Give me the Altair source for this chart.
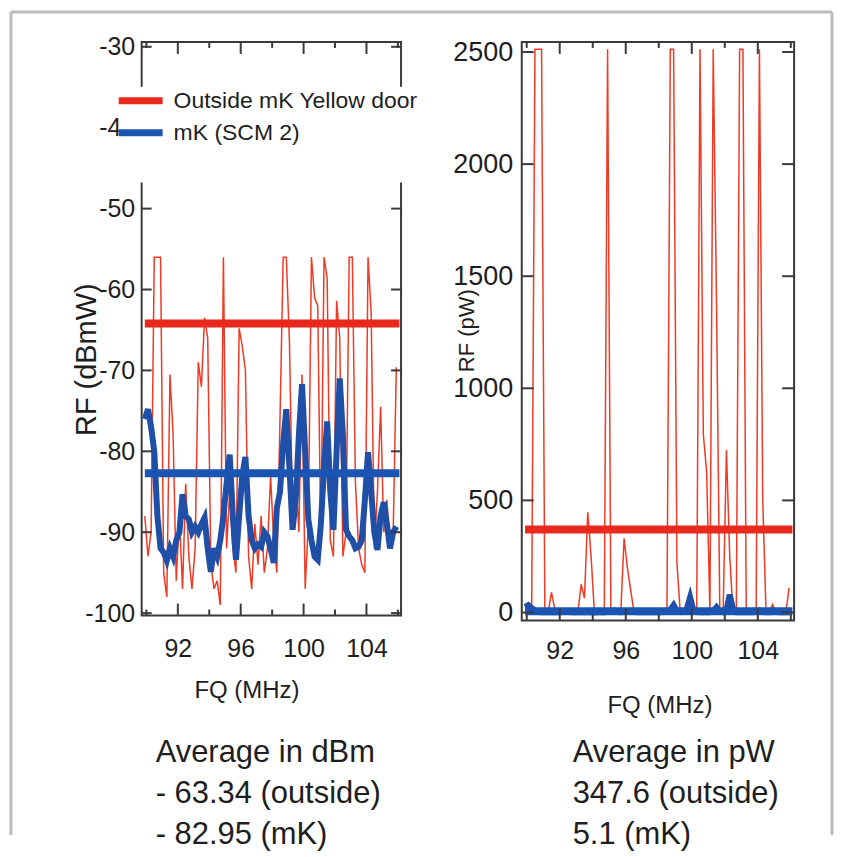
import altair as alt
import pandas as pd

# ---------------- data ----------------
freq_mhz = [89.9, 90.1, 90.3, 90.5, 90.7, 90.9, 91.1, 91.3, 91.5, 91.7,
            91.9, 92.1, 92.3, 92.5, 92.7, 92.9, 93.1, 93.3, 93.5, 93.7,
            93.9, 94.1, 94.3, 94.5, 94.7, 94.9, 95.1, 95.3, 95.5, 95.7,
            95.9, 96.1, 96.3, 96.5, 96.7, 96.9, 97.1, 97.3, 97.5, 97.7,
            97.9, 98.1, 98.3, 98.5, 98.7, 98.9, 99.1, 99.3, 99.5, 99.7,
            99.9, 100.1, 100.3, 100.5, 100.7, 100.9, 101.1, 101.3, 101.5, 101.7,
            101.9, 102.1, 102.3, 102.5, 102.7, 102.9, 103.1, 103.3, 103.5, 103.7,
            103.9, 104.1, 104.3, 104.5, 104.7, 104.9, 105.1, 105.3, 105.5, 105.7,
            105.9]

outside_dbm = [-88, -93, -90, -56, -56, -56, -95, -98, -70.5, -78,
               -96, -88, -97, -84, -93, -97, -92, -69, -72, -63.5,
               -66, -94, -97, -96, -99, -56, -92, -85, -92, -95,
               -64.8, -67, -70, -93, -97, -89, -94, -88, -95, -92,
               -83, -91, -95, -76, -56, -56, -66.5, -88, -83, -90,
               -70.5, -97, -89, -56, -61, -62, -92, -56, -58.6, -91,
               -93, -61.4, -66, -93, -90, -56, -56, -84, -92, -94,
               -95, -56, -63, -92, -85, -74.5, -90, -86, -92, -90,
               -69.6]

mk_dbm = [-76, -74.8, -77, -80, -88, -92, -92.5, -93.5, -92, -93,
          -91, -90, -85.3, -88, -88.4, -90, -89.3, -90, -89, -88.2,
          -92, -94.9, -92, -93, -91, -88, -84, -80.4, -88, -93.4,
          -88, -83, -80.7, -88, -91, -92, -91.5, -91.8, -90, -90.5,
          -92, -93.8, -87, -85, -79, -74.8, -82, -89.7, -86, -78,
          -71.7, -80, -88.4, -91, -93, -93.4, -89, -82, -76.3, -85,
          -89.7, -80, -71, -78, -89.7, -90.5, -91, -92, -91.8, -91,
          -86, -80.1, -85, -90, -92.2, -88, -86.3, -89, -92, -90,
          -89.3]

series_names = ["Outside mK Yellow door", "mK (SCM 2)"]
avg_span_mhz = [89.9, 106.1]
avg_dbm = [-64.2, -82.7]
avg_pw = [370.0, 5.1]

x_major = [92, 96, 100, 104]
x_minor = [90, 94, 98, 102, 106]
dbm_ticks = [-30, -40, -50, -60, -70, -80, -90, -100]
pw_ticks = [0, 500, 1000, 1500, 2000, 2500]

notes_dbm = ["Average in dBm", "- 63.34 (outside)", "- 82.95 (mK)"]
notes_pw = ["Average in pW", "347.6 (outside)", "5.1 (mK)"]

# ---------------- styling ----------------
RED = "#ef3b26"
RED_AVG = "#e8291d"
BLUE = "#1f4fa6"
BLUE_AVG = "#1b55b3"
FRAME = "#3a3a3a"
TEXT = "#1e1e1e"
FONT = "Liberation Sans"

X_DOMAIN = [89.7, 106.2]
DBM_DOMAIN = [-100.3, -29.4]
PW_DOMAIN = [-36, 2545]

n = len(freq_mhz)
spectra = pd.DataFrame({
    "freq": freq_mhz + freq_mhz,
    "dbm": outside_dbm + mk_dbm,
    "series": [series_names[0]] * n + [series_names[1]] * n,
})

averages = pd.DataFrame({
    "freq": avg_span_mhz + avg_span_mhz,
    "level_dbm": [avg_dbm[0]] * 2 + [avg_dbm[1]] * 2,
    "level_pw": [avg_pw[0]] * 2 + [avg_pw[1]] * 2,
    "series": [series_names[0]] * 2 + [series_names[1]] * 2,
})

one = pd.DataFrame({"k": [0]})


def panel(W, H, yfield, avgfield, ydomain, yticks, ytitle, ytitle_x, ytitle_y,
          ytitle_size, ylabel_size, ylabel_pad, xlabel_pad, xtitle_x, xtitle_y,
          ytick_len, notes, notes_x, extras):
    xs = alt.Scale(domain=X_DOMAIN, nice=False, zero=False)
    ys = alt.Scale(domain=ydomain, nice=False, zero=False)
    xaxis = alt.Axis(values=x_major, title="FQ (MHz)", ticks=False, domain=False,
                     grid=False, labelFontSize=25, labelPadding=xlabel_pad,
                     labelExpr="'' + datum.value",
                     titleFontSize=24, titleFontWeight="normal",
                     titleX=xtitle_x, titleY=xtitle_y, titleBaseline="middle",
                     labelColor=TEXT, titleColor=TEXT)
    yaxis = alt.Axis(values=yticks, title=ytitle, ticks=False, domain=False,
                     grid=False, labelFontSize=ylabel_size, labelPadding=ylabel_pad,
                     labelExpr="'' + datum.value",
                     titleFontSize=ytitle_size, titleFontWeight="normal",
                     titleX=ytitle_x, titleY=ytitle_y, titleBaseline="middle",
                     labelColor=TEXT, titleColor=TEXT)

    def X(field):
        return alt.X(field, scale=xs, axis=xaxis)

    def Y(field):
        return alt.Y(field, scale=ys, axis=yaxis)

    base = alt.Chart(spectra).transform_calculate(
        pw="pow(10, datum.dbm / 10) * 1e9"
    )
    red = base.transform_filter(alt.datum.series == series_names[0]).mark_line(
        color=RED, strokeWidth=1.5
    ).encode(x=X("freq:Q"), y=Y(yfield + ":Q"))
    blue = base.transform_filter(alt.datum.series == series_names[1]).mark_line(
        color=BLUE, strokeWidth=6
    ).encode(x=X("freq:Q"), y=Y(yfield + ":Q"))
    avg_red = alt.Chart(averages).transform_filter(
        alt.datum.series == series_names[0]
    ).mark_line(color=RED_AVG, strokeWidth=8).encode(
        x=X("freq:Q"), y=Y(avgfield + ":Q"))
    avg_blue = alt.Chart(averages).transform_filter(
        alt.datum.series == series_names[1]
    ).mark_line(color=BLUE_AVG, strokeWidth=8).encode(
        x=X("freq:Q"), y=Y(avgfield + ":Q"))

    # inward ticks on all four sides
    tick_layers = []
    for vals, ln in ((x_major, 12), (x_minor, 6)):
        d = alt.Chart(pd.DataFrame({"v": vals}))
        tick_layers.append(d.mark_rule(color=FRAME, strokeWidth=2).encode(
            x=X("v:Q"), y=alt.value(0), y2=alt.value(ln)))
        tick_layers.append(d.mark_rule(color=FRAME, strokeWidth=2).encode(
            x=X("v:Q"), y=alt.value(H), y2=alt.value(H - ln)))
    d = alt.Chart(pd.DataFrame({"v": yticks}))
    tick_layers.append(d.mark_rule(color=FRAME, strokeWidth=2).encode(
        y=Y("v:Q"), x=alt.value(0), x2=alt.value(ytick_len)))
    tick_layers.append(d.mark_rule(color=FRAME, strokeWidth=2).encode(
        y=Y("v:Q"), x=alt.value(W), x2=alt.value(W - ytick_len)))

    note = alt.Chart(pd.DataFrame({"t": ["\n".join(notes)]})).mark_text(
        align="left", baseline="alphabetic", fontSize=31, lineBreak="\n",
        lineHeight=41, color=TEXT
    ).encode(text="t:N", x=alt.value(notes_x), y=alt.value(722))

    layers = [red, blue, avg_red, avg_blue] + tick_layers + [note] + extras
    return alt.layer(*layers).properties(width=W, height=H)


# legend (drawn over the left frame, as in the reference)
leg_box = alt.Chart(one).mark_rect(color="white").encode(
    x=alt.value(-23), x2=alt.value(292), y=alt.value(45), y2=alt.value(141))
leg_red = alt.Chart(one).mark_rule(color=RED_AVG, strokeWidth=7).encode(
    x=alt.value(-23), x2=alt.value(21), y=alt.value(59))
leg_blue = alt.Chart(one).mark_rule(color=BLUE_AVG, strokeWidth=7).encode(
    x=alt.value(-23), x2=alt.value(21), y=alt.value(91))
leg_text = alt.Chart(pd.DataFrame({"t": series_names})).transform_filter(
    alt.datum.t == series_names[0]).mark_text(
    align="left", baseline="middle", fontSize=23, color=TEXT
).encode(text="t:N", x=alt.value(32), y=alt.value(59))
leg_text2 = alt.Chart(pd.DataFrame({"t": series_names})).transform_filter(
    alt.datum.t == series_names[1]).mark_text(
    align="left", baseline="middle", fontSize=23, color=TEXT
).encode(text="t:N", x=alt.value(32), y=alt.value(91))

# light grey page border (top, left, right)
BORDER = "#bcbcbc"
b_top = alt.Chart(one).mark_rule(color=BORDER, strokeWidth=3).encode(
    x=alt.value(-131), x2=alt.value(692), y=alt.value(-30))
b_left = alt.Chart(one).mark_rule(color=BORDER, strokeWidth=3).encode(
    x=alt.value(-131), y=alt.value(-30), y2=alt.value(795))
b_right = alt.Chart(one).mark_rule(color=BORDER, strokeWidth=3).encode(
    x=alt.value(692), y=alt.value(-30), y2=alt.value(795))

left = panel(260, 575, "dbm", "level_dbm", DBM_DOMAIN, dbm_ticks, "RF (dBmW)",
             -55, 318, 29, 25, 7, 21, 105, 75, 10, notes_dbm, 14,
             [leg_box, leg_red, leg_blue, leg_text, leg_text2, b_top, b_left, b_right])

right = panel(273, 580, "pw", "level_pw", PW_DOMAIN, pw_ticks, "RF (pW)",
              -55, 289, 22, 27, 9, 18, 138, 85, 12, notes_pw, 51, [])

chart = alt.hconcat(left, right, spacing=121, bounds="flush").properties(
    padding=0
).configure(font=FONT).configure_view(stroke=FRAME, strokeWidth=2)

chart.save("out.html", embed_options={"renderer": "svg", "actions": False})
